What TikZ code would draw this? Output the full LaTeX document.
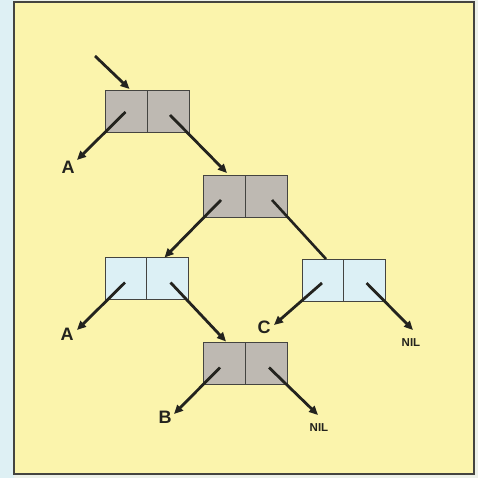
\documentclass[tikz,border=0pt]{standalone}
\usepackage{fontspec}
\setmainfont{Liberation Sans}
\usetikzlibrary{arrows.meta,calc}
\definecolor{bgyellow}{RGB}{251,244,172}
\definecolor{cellgray}{RGB}{190,185,178}
\definecolor{cellblue}{RGB}{220,240,245}
\definecolor{stripblue}{RGB}{222,240,244}
\definecolor{outside}{RGB}{236,240,234}
\definecolor{inkdark}{RGB}{35,35,30}
\begin{document}
\begin{tikzpicture}[x=1pt,y=-1pt,
  half/.style={draw=inkdark!85, line width=0.9pt, minimum width=42pt, minimum height=42pt, inner sep=0pt, outer sep=0pt},
  graycell/.style={half, fill=cellgray},
  bluecell/.style={half, fill=cellblue},
  ptr/.style={line width=2.8pt, draw=inkdark, -{Triangle[length=9pt,width=8pt]}},
  link/.style={line width=2.6pt, draw=inkdark},
  lbl/.style={font=\fontsize{18}{18}\selectfont\bfseries, text=inkdark, inner sep=0pt},
  nillbl/.style={font=\fontsize{11.5}{11.5}\selectfont\bfseries, text=inkdark, inner sep=0pt}]
\useasboundingbox (0,0) rectangle (478,478);
\fill[outside] (0,0) rectangle (478,478);
\fill[stripblue] (0,0) rectangle (14,478);
\fill[bgyellow] (14,2) rectangle (474,474);
\draw[inkdark!85, line width=1.5pt] (14,2) rectangle (474,474);

% boxes
\node[graycell] (b1l) at (126.5,111) {};
\node[graycell] (b1r) at (168,111) {};
\node[graycell] (b2l) at (224,196) {};
\node[graycell] (b2r) at (266,196) {};
\node[bluecell] (b3l) at (126,278.5) {};
\node[bluecell] (b3r) at (167.5,278.5) {};
\node[bluecell] (b4l) at (323,280) {};
\node[bluecell] (b4r) at (364.5,280) {};
\node[graycell] (b5l) at (224,363.5) {};
\node[graycell] (b5r) at (266,363.5) {};

% labels
\node[lbl] (la1) at (68,167) {A};
\node[lbl] (la2) at (67,334) {A};
\node[lbl] (lc) at (264,327) {C};
\node[lbl] (lb) at (165,417) {B};
\node[nillbl] (ln1) at (411,343) {NIL};
\node[nillbl] (ln2) at (319,428) {NIL};

% free ends
\coordinate (entry) at (95,56);
\coordinate (ta1) at (77,160);
\coordinate (ta2) at (77,330);
\coordinate (tc) at (274,325);
\coordinate (tb) at (174,414);
\coordinate (tn1) at (413,330);
\coordinate (tn2) at (318,415);

% connectors
\draw[ptr] (entry) -- ($(b1l.north)+(3,-1)$);
\draw[ptr] ($(b1l.center)+(-1,1)$) -- (ta1);
\draw[ptr] ($(b1r.center)+(2,4)$) -- ($(b2l.north)+(3,-2)$);
\draw[ptr] ($(b2l.center)+(-3,4)$) -- ($(b3r.north)+(-3,0)$);
\draw[link] ($(b2r.center)+(6,4)$) -- ($(b4l.north)+(3,0)$);
\draw[ptr] ($(b3l.center)+(-1,4)$) -- (ta2);
\draw[ptr] ($(b3r.center)+(3,4)$) -- ($(b5l.north)+(2,-1)$);
\draw[ptr] ($(b4l.center)+(-1,3)$) -- (tc);
\draw[ptr] ($(b4r.center)+(2,3)$) -- (tn1);
\draw[ptr] ($(b5l.center)+(-4,4)$) -- (tb);
\draw[ptr] ($(b5r.center)+(3,4)$) -- (tn2);
\end{tikzpicture}
\end{document}
